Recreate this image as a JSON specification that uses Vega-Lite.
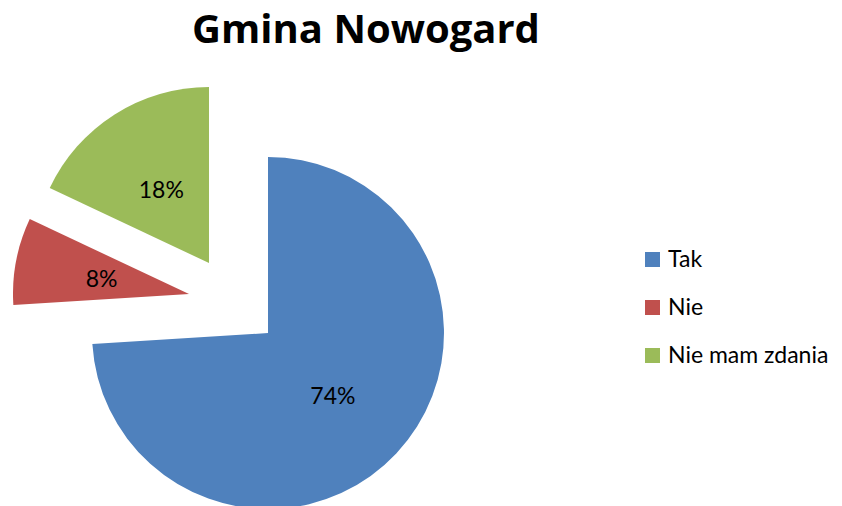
{
  "$schema": "https://vega.github.io/schema/vega-lite/v6.json",
  "autosize": "none",
  "width": 536,
  "height": 346,
  "padding": {"left": 0, "top": 160, "right": 306, "bottom": 0},
  "background": "white",
  "config": {"view": {"stroke": null}, "font": "Lato"},
  "title": {"text": "Gmina Nowogard", "fontSize": 40, "font": "Open Sans", "fontWeight": "bold", "anchor": "middle", "dx": 98, "offset": 36, "color": "black"},
  "data": {"values": [
    {"cat": "Tak", "value": 0.74, "ord": 1},
    {"cat": "Nie", "value": 0.08, "ord": 2},
    {"cat": "Nie mam zdania", "value": 0.18, "ord": 3}
  ]},
  "encoding": {
    "theta": {"field": "value", "type": "quantitative", "stack": true},
    "order": {"field": "ord", "type": "quantitative"}
  },
  "layer": [
    {
      "mark": {"type": "arc", "outerRadius": 176},
      "encoding": {
        "color": {"field": "cat", "type": "nominal", "sort": ["Tak", "Nie", "Nie mam zdania"],
          "scale": {"domain": ["Tak", "Nie", "Nie mam zdania"], "range": ["#4F81BD", "#C0504D", "#9BBB59"]},
          "legend": {"title": null, "orient": "none", "legendX": 641, "legendY": 88, "symbolType": "square", "symbolSize": 225, "labelFontSize": 23, "labelFont": "Lato", "labelColor": "black", "labelOffset": 4, "labelLimit": 300, "rowPadding": 24, "symbolOpacity": 1}},
        "opacity": {"condition": {"test": "datum.cat === 'Tak'", "value": 1}, "value": 0}
      }
    },
    {
      "mark": {"type": "arc", "outerRadius": 176, "xOffset": -79, "yOffset": -39},
      "encoding": {
        "color": {"field": "cat", "type": "nominal"},
        "opacity": {"condition": {"test": "datum.cat === 'Nie'", "value": 1}, "value": 0}
      }
    },
    {
      "mark": {"type": "arc", "outerRadius": 176, "xOffset": -59, "yOffset": -70},
      "encoding": {
        "color": {"field": "cat", "type": "nominal"},
        "opacity": {"condition": {"test": "datum.cat === 'Nie mam zdania'", "value": 1}, "value": 0}
      }
    },
    {
      "mark": {"type": "text", "radius": 89, "fontSize": 23, "font": "Lato", "color": "black", "dy": 3},
      "encoding": {
        "text": {"field": "value", "type": "quantitative", "format": ".0%"},
        "opacity": {"condition": {"test": "datum.cat === 'Tak'", "value": 1}, "value": 0}
      }
    },
    {
      "mark": {"type": "text", "radius": 89, "fontSize": 23, "font": "Lato", "color": "black", "dy": 3, "xOffset": -79, "yOffset": -39},
      "encoding": {
        "text": {"field": "value", "type": "quantitative", "format": ".0%"},
        "opacity": {"condition": {"test": "datum.cat === 'Nie'", "value": 1}, "value": 0}
      }
    },
    {
      "mark": {"type": "text", "radius": 89, "fontSize": 23, "font": "Lato", "color": "black", "dy": 3, "xOffset": -59, "yOffset": -70},
      "encoding": {
        "text": {"field": "value", "type": "quantitative", "format": ".0%"},
        "opacity": {"condition": {"test": "datum.cat === 'Nie mam zdania'", "value": 1}, "value": 0}
      }
    }
  ]
}
